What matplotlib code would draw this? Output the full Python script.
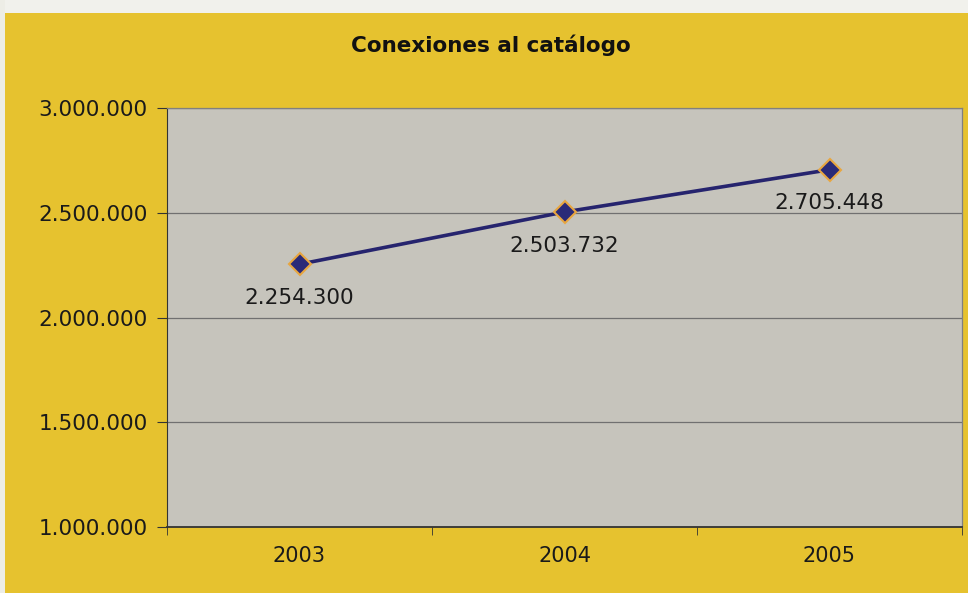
import matplotlib.pyplot as plt
from matplotlib.patches import Rectangle
from matplotlib.ticker import FuncFormatter, FixedLocator

# datos
years = ['2003', '2004', '2005']
conexiones = [2254300, 2503732, 2705448]

def miles(v, pos=None):
    return f'{int(round(v)):,}'.replace(',', '.')

fig = plt.figure(figsize=(9.68, 5.93), dpi=100)
fig.patch.set_facecolor('#E6C22F')

# franja blanca del papel escaneado
fig.patches.append(Rectangle((0, 1 - 13 / 593), 1, 13 / 593, transform=fig.transFigure,
                             facecolor='#F1F1EC', edgecolor='none', zorder=0))
fig.patches.append(Rectangle((0, 0), 5 / 968, 1, transform=fig.transFigure,
                             facecolor='#EDEDE6', edgecolor='none', zorder=0))

ax = fig.add_axes([167 / 968, 1 - 527 / 593, 795 / 968, 419 / 593])
ax.set_facecolor('#C6C4BC')

x = list(range(len(years)))
ax.plot(x, conexiones, color='#26246E', linewidth=2.6, zorder=3)
ax.plot(x, conexiones, linestyle='none', marker='D', markersize=11,
        markerfacecolor='#2A2A78', markeredgecolor='#E8A640', markeredgewidth=1.5, zorder=4)

for xi, v in zip(x, conexiones):
    ax.annotate(miles(v), (xi, v), xytext=(0, -17), textcoords='offset points',
                ha='center', va='top', fontsize=15.5, color='#1A1A1A')

ax.set_xlim(-0.5, 2.5)
ax.set_ylim(1000000, 3000000)
ax.set_yticks([1000000, 1500000, 2000000, 2500000, 3000000])
ax.yaxis.set_major_formatter(FuncFormatter(miles))
ax.yaxis.grid(True, color='#707070', linewidth=0.9)
ax.set_axisbelow(True)

ax.set_xticks(x)
ax.set_xticklabels(years)
ax.xaxis.set_minor_locator(FixedLocator([-0.5, 0.5, 1.5, 2.5]))
ax.tick_params(axis='x', which='major', length=0, pad=14, labelsize=15, colors='#1A1A1A')
ax.tick_params(axis='x', which='minor', length=6, direction='out', color='#333333')
ax.tick_params(axis='y', length=7, direction='out', labelsize=15.5, pad=7,
               colors='#333333', labelcolor='#1A1A1A')

for side in ['top', 'right']:
    ax.spines[side].set_color('#808080')
    ax.spines[side].set_linewidth(0.9)
ax.spines['left'].set_color('#333333')
ax.spines['bottom'].set_color('#333333')
ax.spines['bottom'].set_linewidth(1.3)

fig.text(491 / 968, 1 - 45 / 593, 'Conexiones al catálogo', ha='center', va='center',
         fontsize=15.5, fontweight='bold', color='#111111')

fig.savefig('out.png', dpi=100, facecolor=fig.get_facecolor())
